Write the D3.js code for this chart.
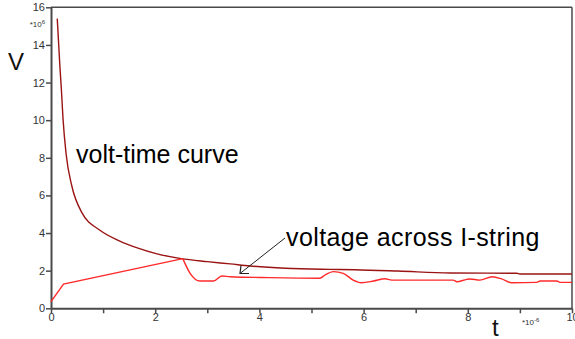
<!DOCTYPE html>
<html><head><meta charset="utf-8">
<script src="https://cdn.jsdelivr.net/npm/d3@7"></script>
<style>body{margin:0;background:#fff}svg{display:block}</style>
</head><body>
<svg id="c" width="575" height="339"></svg>
<script>
// Data (t in 1e-6 s, V in 1e6 V)
const voltTimeT = [0.12,0.14,0.17,0.2,0.23,0.29,0.4,0.59,0.94,1.3,1.67,2.0,2.5,3.0,3.44,3.82,4.5,5.36,5.83,6.66,7.66,8.94,9.0,10];
const voltTimeV = [15.4,14.4,12.9,11.6,10.1,8.2,6.5,5.1,4.15,3.6,3.2,2.92,2.64,2.48,2.36,2.25,2.13,2.07,2.05,1.98,1.88,1.86,1.82,1.82];
const stringT = [0,0.24,2.53,2.67,2.86,3.12,3.28,3.44,4.2,5.16,5.26,5.42,5.61,5.8,5.96,6.19,6.41,6.54,7.72,7.79,7.98,8.04,8.23,8.47,8.65,8.84,9.32,9.39,9.71,9.77,10];
const stringV = [0.35,1.29,2.64,1.86,1.45,1.45,1.72,1.68,1.63,1.6,1.77,1.95,1.86,1.5,1.36,1.45,1.57,1.5,1.5,1.41,1.54,1.56,1.5,1.68,1.56,1.36,1.38,1.45,1.45,1.38,1.38];
const xMajorTicks = [0,2,4,6,8,10];
const xMinorTicks = [1,3,5,7,9];
const yTicks = [0,2,4,6,8,10,12,14,16];
const labels = ["volt-time curve","voltage across I-string"];

const svg = d3.select("#c");
const x = d3.scaleLinear().domain([0,10]).range([51,572]);
const y = d3.scaleLinear().domain([0,16]).range([308.3,7.3]);
const axisColor = "#4a4a4a";
const font = "Liberation Sans, Arial, sans-serif";

// frame top/right
svg.append("line").attr("x1",x(0)).attr("x2",x(10)).attr("y1",y(16)).attr("y2",y(16)).attr("stroke",axisColor).attr("stroke-width",1.5);
svg.append("line").attr("x1",x(10)).attr("x2",x(10)).attr("y1",y(16)).attr("y2",y(0)).attr("stroke",axisColor).attr("stroke-width",1.5);

// axes
const xAxis = svg.append("g").attr("transform",`translate(0,${y(0)})`)
  .call(d3.axisBottom(x).tickValues(xMajorTicks).tickSize(5).tickSizeOuter(0).tickFormat(d3.format("d")));
const xMinor = svg.append("g").attr("transform",`translate(0,${y(0)})`)
  .call(d3.axisBottom(x).tickValues(xMinorTicks).tickSize(5).tickSizeOuter(0).tickFormat(""));
xMinor.select(".domain").remove();
const yAxis = svg.append("g").attr("transform",`translate(${x(0)},0)`)
  .call(d3.axisLeft(y).tickValues(yTicks).tickSize(5).tickSizeOuter(0).tickFormat(d3.format("d")));
[xAxis,xMinor,yAxis].forEach(g=>{
  g.selectAll(".domain").attr("stroke",axisColor).attr("stroke-width",2);
  g.selectAll(".tick line").attr("stroke",axisColor).attr("stroke-width",1.5);
  g.selectAll(".tick text").attr("fill","#333").attr("font-family",font).attr("font-size",11);
});
xAxis.selectAll(".tick text").attr("dy","0.5em").attr("y",7);
yAxis.selectAll(".tick text").attr("x",-6);

// exponent labels
const e1 = svg.append("text").attr("x",45).attr("y",27).attr("text-anchor","end")
  .attr("font-family",font).attr("font-size",8).attr("fill","#333");
e1.append("tspan").text("*10");
e1.append("tspan").attr("font-size",6).attr("dy",-3).text("6");
const e2 = svg.append("text").attr("x",522).attr("y",325)
  .attr("font-family",font).attr("font-size",8).attr("fill","#333");
e2.append("tspan").text("*10");
e2.append("tspan").attr("font-size",6).attr("dy",-3).text("-6");

// axis titles
svg.append("text").attr("x",8).attr("y",70).attr("font-family",font).attr("font-size",24).attr("fill","#111").text("V");
svg.append("text").attr("x",492).attr("y",335.5).attr("font-family",font).attr("font-size",24).attr("fill","#111").text("t");

// lines
const vt = voltTimeT.map((t,i)=>[t,voltTimeV[i]]);
const st = stringT.map((t,i)=>[t,stringV[i]]);
const lineLin = d3.line().x(d=>x(d[0])).y(d=>y(d[1]));
const lineSmooth = d3.line().x(d=>x(d[0])).y(d=>y(d[1])).curve(d3.curveMonotoneX);
svg.append("path").datum(vt)
  .attr("d",lineSmooth).attr("fill","none").attr("stroke","#9a1414").attr("stroke-width",1.4);
svg.append("path").datum(st.slice(0,3))
  .attr("d",lineLin).attr("fill","none").attr("stroke","#ff2a2a").attr("stroke-width",1.4);
svg.append("path").datum(st.slice(2))
  .attr("d",lineSmooth).attr("fill","none").attr("stroke","#ff2a2a").attr("stroke-width",1.4);

// annotations
svg.append("text").attr("x",76).attr("y",162.5).attr("font-family",font).attr("font-size",25).attr("fill","#000").text(labels[0]);
svg.append("text").attr("x",286).attr("y",246).attr("font-family",font).attr("font-size",25).attr("letter-spacing",0.4).attr("fill","#000").text(labels[1]);

// arrow
const ax0=285, ay0=238, ax1=240, ay1=273.5;
svg.append("line").attr("x1",ax0).attr("y1",ay0).attr("x2",ax1).attr("y2",ay1).attr("stroke","#222").attr("stroke-width",1);
svg.append("path").attr("d",`M${ax1+9},${ay1} L${ax1},${ay1} L${ax1+1},${ay1-8}`).attr("fill","none").attr("stroke","#222").attr("stroke-width",1.2);
</script>
</body></html>
